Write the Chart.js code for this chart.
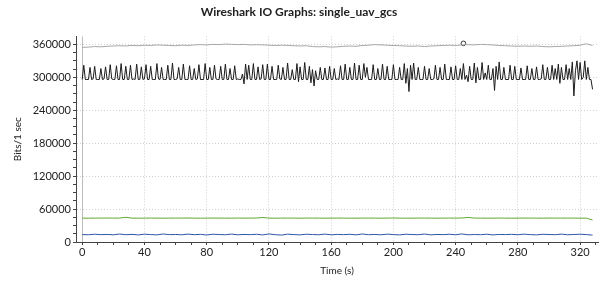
<!DOCTYPE html>
<html>
<head>
<meta charset="utf-8">
<script src="https://cdn.jsdelivr.net/npm/chart.js@4.4.1/dist/chart.umd.min.js"></script>
<style>
  html, body { margin: 0; padding: 0; background: #ffffff; }
  #wrap { width: 607px; height: 282px; }
</style>
</head>
<body>
<div id="wrap"><canvas id="grafico" width="607" height="282"></canvas></div>
<script>
// Series at 1 s resolution (t = 0 .. 328)
const bitsAll = [
  296000, 322000, 296000, 296000, 296000, 318000, 296000, 297000, 320000, 296000,
  296000, 296000, 316000, 296000, 297000, 319000, 296000, 296000, 323000, 297000,
  296000, 296000, 321000, 296000, 296000, 325000, 296000, 296000, 320000, 296000,
  296000, 322000, 296000, 297000, 296000, 324000, 296000, 296000, 319000, 296000,
  297000, 323000, 296000, 296000, 320000, 296000, 296000, 296000, 325000, 297000,
  296000, 318000, 296000, 296000, 296000, 322000, 296000, 296000, 326000, 296000,
  296000, 297000, 318000, 296000, 296000, 324000, 296000, 296000, 296000, 321000,
  296000, 296000, 316000, 296000, 297000, 323000, 296000, 296000, 296000, 325000,
  296000, 296000, 318000, 296000, 296000, 322000, 297000, 296000, 296000, 320000,
  296000, 296000, 324000, 296000, 296000, 316000, 296000, 296000, 321000, 296000,
  297000, 296000, 296000, 306000, 288000, 324000, 296000, 322000, 296000, 296000,
  325000, 296000, 296000, 319000, 296000, 297000, 323000, 296000, 296000, 324000,
  296000, 296000, 320000, 296000, 296000, 296000, 322000, 297000, 296000, 318000,
  296000, 296000, 326000, 296000, 296000, 314000, 296000, 296000, 325000, 292000,
  319000, 296000, 296000, 327000, 296000, 296000, 320000, 290000, 314000, 284000,
  312000, 296000, 296000, 318000, 296000, 296000, 317000, 296000, 296000, 320000,
  296000, 296000, 316000, 296000, 297000, 296000, 321000, 296000, 296000, 324000,
  296000, 296000, 318000, 296000, 296000, 326000, 296000, 296000, 322000, 296000,
  296000, 325000, 300000, 318000, 296000, 296000, 296000, 323000, 296000, 296000,
  316000, 296000, 296000, 324000, 296000, 296000, 320000, 296000, 296000, 296000,
  323000, 296000, 296000, 296000, 318000, 296000, 296000, 325000, 289000, 316000,
  274000, 322000, 296000, 326000, 296000, 296000, 318000, 296000, 296000, 296000,
  320000, 296000, 296000, 316000, 296000, 296000, 297000, 322000, 296000, 296000,
  318000, 296000, 296000, 324000, 296000, 296000, 296000, 319000, 296000, 296000,
  321000, 296000, 296000, 316000, 296000, 325000, 296000, 304000, 292000, 320000,
  296000, 296000, 326000, 290000, 318000, 296000, 296000, 327000, 296000, 308000,
  296000, 322000, 296000, 296000, 316000, 276000, 320000, 296000, 328000, 296000,
  296000, 318000, 296000, 296000, 296000, 322000, 296000, 296000, 320000, 296000,
  296000, 296000, 317000, 296000, 296000, 296000, 321000, 296000, 296000, 316000,
  296000, 296000, 319000, 296000, 296000, 297000, 323000, 296000, 296000, 318000,
  296000, 296000, 322000, 296000, 316000, 296000, 324000, 289000, 318000, 296000,
  296000, 323000, 296000, 316000, 296000, 328000, 266000, 312000, 330000, 296000,
  327000, 296000, 300000, 330000, 296000, 318000, 296000, 296000, 278000
];

// Series at 4 s resolution (t = 0, 4, ... 328)
const bitsTotal = [
  354500, 355000, 356000, 355500, 356500, 357000, 357500, 357000, 358000, 357500,
  358500, 358000, 359000, 358500, 358000, 357500, 358500, 358000, 359000, 359500,
  359000, 360000, 359500, 360500, 360000, 359500, 360000, 359000, 359500, 359000,
  358500, 358000, 358500, 358000, 357500, 357000, 357500, 356000, 355500, 356000,
  355000, 355500, 356500, 357000, 356500, 358000, 358500, 359500, 359000, 358500,
  358000, 357500, 357000, 356500, 357000, 356000, 357000, 357500, 358000, 358500,
  358000, 359000, 359500, 359000, 360000, 359500, 359000, 358000, 357500, 357000,
  356500, 357000, 356500, 357000, 356000, 355500, 356000, 356500, 357000, 357500,
  358500, 361000, 358000
];
const bitsGreen = [
  43500, 43400, 43600, 43500, 43700, 43500, 43600, 45000, 43500, 43400,
  43500, 43600, 43500, 43400, 43500, 43600, 43500, 43700, 43500, 43400,
  43500, 43600, 43500, 43500, 43400, 43600, 43500, 43500, 43700, 44600,
  43500, 43400, 43500, 43600, 43500, 43400, 43600, 43500, 43500, 43400,
  43500, 43600, 43500, 43400, 43500, 43500, 43600, 43500, 43400, 43500,
  43700, 43500, 43400, 43500, 43600, 43500, 43500, 43400, 43500, 43600,
  43500, 43700, 44800, 43600, 43500, 43400, 43500, 43600, 43500, 43400,
  43500, 43600, 43500, 43500, 43400, 43600, 43500, 43500, 43600, 43500,
  43400, 43500, 40000
];
const bitsBlue = [
  13500, 13200, 14200, 13400, 13800, 13100, 14500, 13300, 13900, 12900,
  14300, 13500, 13000, 14600, 13400, 13700, 13100, 14400, 13300, 13900,
  12800, 14200, 13600, 13200, 14500, 13100, 13800, 13400, 14100, 12900,
  14700, 13300, 12600, 14300, 13500, 13000, 14200, 13600, 13200, 14400,
  13100, 13800, 13400, 14100, 13000, 14600, 13300, 13700, 13100, 14300,
  13500, 12900, 14200, 13600, 13300, 14500, 13000, 13800, 13400, 14100,
  13200, 14700, 13100, 13600, 13300, 14200, 12900, 13800, 13500, 14000,
  13200, 14300, 13400, 13000, 14100, 13600, 13300, 14400, 13200, 13700,
  14200, 13500, 12500
];

// Marker (circle) on the top graph
const markerPoint = [{ x: 245, y: 361800 }];

const xTickValues = [];
for (let t = 0; t <= 330; t += 10) xTickValues.push(t);
const yTickValues = [];
for (let v = 0; v <= 360000; v += 15000) yTickValues.push(v);

document.addEventListener('DOMContentLoaded', function() {
    const toXY = (arr, step) => arr.map((v, i) => ({ x: i * step, y: v }));

    const ctx = document.getElementById('grafico').getContext('2d');
    const chart = new Chart(ctx, {
        type: 'line',
        data: {
            datasets: [
                { data: toXY(bitsTotal, 4), borderColor: '#a6a6a6', borderWidth: 1, pointRadius: 0 },
                { data: toXY(bitsAll, 1), borderColor: '#1c1c1c', borderWidth: 1, pointRadius: 0 },
                { data: toXY(bitsGreen, 4), borderColor: '#5ea62e', borderWidth: 1, pointRadius: 0 },
                { data: toXY(bitsBlue, 4), borderColor: '#2d55a6', borderWidth: 1, pointRadius: 0 },
                {
                    type: 'scatter',
                    data: markerPoint,
                    showLine: false,
                    pointRadius: 2.3,
                    pointBorderWidth: 1,
                    pointBorderColor: '#333333',
                    pointBackgroundColor: 'rgba(0,0,0,0)'
                }
            ]
        },
        options: {
            responsive: false,
            animation: false,
            devicePixelRatio: 1,
            layout: { padding: { left: 0, right: 9, top: 0, bottom: 0 } },
            plugins: {
                legend: { display: false },
                tooltip: { enabled: false },
                title: {
                    display: true,
                    text: 'Wireshark IO Graphs: single_uav_gcs',
                    color: '#222222',
                    font: { family: 'Lato', size: 12, weight: 'bold' },
                    padding: { top: 5, bottom: 17 }
                }
            },
            scales: {
                x: {
                    type: 'linear',
                    min: -4,
                    max: 331.5,
                    afterBuildTicks: function(scale) {
                        scale.ticks = xTickValues.map(v => ({ value: v }));
                    },
                    afterFit: function(scale) { scale.height = 40; },
                    ticks: {
                        autoSkip: false,
                        maxRotation: 0,
                        padding: 1,
                        color: '#222222',
                        font: { family: 'Lato', size: 11 },
                        callback: v => (v % 40 === 0 ? String(v) : '')
                    },
                    grid: {
                        color: c => (c.tick && c.tick.value % 40 === 0) ? (c.tick.value === 0 ? '#bdbdbd' : '#cfcfcf') : 'rgba(0,0,0,0)',
                        tickColor: '#444444',
                        tickLength: 3
                    },
                    border: {
                        color: '#444444',
                        width: 1,
                        dash: c => (c.tick && c.tick.value !== 0) ? [1, 2] : []
                    },
                    title: {
                        display: true,
                        text: 'Time (s)',
                        color: '#222222',
                        font: { family: 'Lato', size: 10 },
                        padding: { top: 0, bottom: 5 }
                    }
                },
                y: {
                    min: 0,
                    max: 374500,
                    afterBuildTicks: function(scale) {
                        scale.ticks = yTickValues.map(v => ({ value: v }));
                    },
                    afterFit: function(scale) { scale.width = 76; },
                    ticks: {
                        autoSkip: false,
                        padding: 2,
                        color: '#222222',
                        font: { family: 'Lato', size: 11 },
                        callback: v => (v % 60000 === 0 ? String(v) : '')
                    },
                    grid: {
                        color: c => (c.tick && c.tick.value % 60000 === 0 && c.tick.value !== 0) ? '#cfcfcf' : 'rgba(0,0,0,0)',
                        tickColor: '#444444',
                        tickLength: 3
                    },
                    border: {
                        color: '#444444',
                        width: 1,
                        dash: c => c.tick ? [1, 2] : []
                    },
                    title: {
                        display: true,
                        text: 'Bits/1 sec',
                        color: '#222222',
                        font: { family: 'Lato', size: 10 },
                        padding: { top: 12, bottom: 0 }
                    }
                }
            }
        }
    });
});
</script>
</body>
</html>
